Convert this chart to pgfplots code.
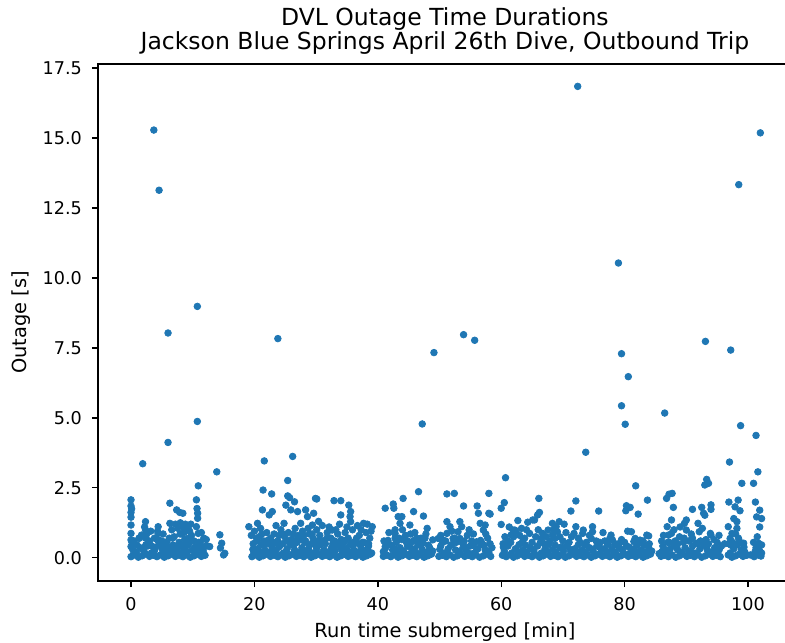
\documentclass[border=0pt]{standalone}
\usepackage{pgfplots}
\pgfplotsset{compat=1.18}
\usepackage{pgfplotstable}
\usepackage{fontspec}
\setmainfont{DejaVu Sans}
\definecolor{mplblue}{HTML}{1F77B4}

% outliers and mid-level outages
\pgfplotstableread{
x y
3.7 15.28
4.55 13.13
72.4 16.84
102.0 15.18
98.5 13.33
79.0 10.53
10.75 8.98
6.0 8.03
23.8 7.83
53.9 7.97
55.7 7.77
49.1 7.33
93.1 7.73
97.2 7.42
79.5 7.29
80.6 6.47
79.5 5.43
80.1 4.77
86.5 5.17
98.8 4.72
101.3 4.37
10.75 4.87
6.0 4.12
47.2 4.78
73.7 3.77
97.0 3.42
1.9 3.36
13.9 3.07
21.6 3.46
26.2 3.62
60.7 2.86
25.4 2.76
10.9 2.57
101.6 3.07
81.8 2.57
93.3 2.80
93.0 2.60
93.6 2.66
99.0 2.66
100.9 2.66
21.4 2.42
22.8 2.28
0.0 2.07
0.0 1.85
0.0 1.62
0.0 1.45
0.0 1.17
0.0 0.87
0.0 0.64
0.0 0.40
0.1 1.75
2.35 1.29
2.35 0.99
2.35 0.70
2.4 0.46
2.2 1.10
1.7 0.81
4.4 1.11
4.4 0.87
4.4 0.64
4.3 0.95
6.3 1.95
6.3 1.23
6.6 1.00
7.4 1.71
7.9 1.62
8.4 1.59
7.2 1.20
7.6 1.05
8.0 1.25
8.5 1.10
8.8 1.20
9.2 1.05
9.5 0.95
8.2 0.85
7.0 0.75
9.8 0.80
8.7 0.65
7.8 0.55
9.0 0.50
6.8 0.45
5.5 0.35
3.5 0.40
10.6 2.07
10.7 1.76
10.8 1.59
10.8 1.41
10.6 1.11
10.9 0.87
11.4 0.90
11.8 0.70
11.9 0.40
12.75 0.40
14.4 0.82
14.7 0.52
15.2 0.16
14.5 0.35
15.0 0.10
25.4 2.21
25.1 1.88
25.9 1.71
27.0 1.65
28.3 1.71
28.6 1.47
29.6 1.59
29.9 2.12
32.9 2.04
34.0 2.04
35.3 1.88
35.6 1.65
35.5 1.47
35.6 1.29
34.0 1.53
20.5 1.23
19.1 1.11
24.8 1.23
27.5 1.23
29.4 1.17
32.6 0.99
37.7 1.23
39.1 1.11
26.5 2.00
25.7 2.15
30.1 2.10
21.3 1.71
22.9 1.65
22.4 1.53
19.5 0.80
20.0 0.95
20.8 0.75
21.5 0.60
22.0 0.90
22.6 0.70
23.2 0.85
23.8 0.60
24.3 1.00
24.9 0.75
25.5 0.90
26.0 0.65
26.6 1.05
27.1 0.80
27.8 0.95
28.3 0.60
28.9 0.85
29.5 0.70
30.1 1.00
30.6 0.80
31.2 0.60
31.8 0.90
32.4 0.70
33.0 0.60
33.5 0.85
34.1 0.65
34.7 0.90
35.2 0.70
35.9 1.00
36.4 0.60
37.0 0.80
37.5 0.55
38.1 0.90
38.7 0.70
36.7 1.15
38.3 1.20
31.0 1.15
33.8 1.20
23.5 1.15
21.0 1.05
41.2 1.77
42.5 1.92
42.6 1.77
44.1 2.12
46.6 2.36
45.8 1.65
47.4 1.49
43.3 1.47
43.9 1.47
43.6 1.23
45.2 1.17
48.0 1.05
42.8 1.00
42.8 0.87
42.8 0.70
41.2 0.40
40.9 0.22
48.9 0.64
45.6 0.58
51.2 2.28
52.4 2.30
53.9 1.85
56.1 1.85
56.3 1.59
58.0 2.30
58.0 1.59
56.6 1.23
57.4 1.17
57.1 0.99
51.2 1.29
51.7 1.11
51.2 0.87
53.3 1.29
53.6 1.11
53.0 0.93
58.2 1.56
49.8 0.69
52.2 0.69
53.3 0.69
56.0 0.57
44.5 0.80
46.0 0.90
47.0 0.70
43.9 0.65
50.5 0.55
54.5 0.80
55.2 0.60
57.8 0.70
46.5 0.50
48.2 0.45
60.5 1.97
60.0 1.77
66.1 2.12
72.1 2.03
71.3 1.67
75.8 1.67
66.2 1.62
65.9 1.53
60.0 1.19
62.7 1.33
64.3 1.27
65.4 1.35
68.3 1.23
69.4 1.29
68.9 1.11
72.1 1.11
74.8 1.11
74.8 0.93
61.9 0.99
62.4 0.93
61.6 0.81
64.6 0.87
66.7 0.87
68.3 0.81
69.1 0.93
71.8 0.87
73.2 0.87
77.8 0.81
65.1 1.35
67.6 0.99
73.3 0.99
63.3 1.05
62.2 0.99
60.6 0.75
62.0 0.75
66.5 0.69
68.7 0.69
71.4 0.75
74.6 0.69
77.6 0.69
63.5 0.60
65.0 0.55
67.0 0.50
70.0 0.60
70.5 0.90
72.8 0.55
76.0 0.55
76.5 0.90
78.5 0.50
79.5 0.65
80.3 1.86
80.9 1.80
80.2 1.68
82.2 1.56
83.7 2.06
81.1 0.93
83.9 0.78
81.7 0.69
82.5 0.63
80.5 0.95
81.5 0.58
83.6 0.81
87.2 2.27
86.8 2.12
87.7 2.30
87.9 1.80
91.0 1.73
92.5 1.80
94.0 1.89
94.0 1.73
92.8 1.59
96.9 1.99
98.4 2.06
101.2 1.99
97.9 1.82
98.7 1.68
101.9 1.70
102.2 1.40
101.4 1.46
93.0 1.52
87.6 1.35
86.9 1.11
90.0 1.35
89.7 1.23
91.9 1.23
97.7 1.40
98.2 1.05
96.8 1.11
98.2 1.29
97.4 0.87
87.6 0.87
87.1 0.81
90.0 0.99
88.9 0.75
92.1 0.93
93.9 0.87
94.0 0.81
97.1 0.69
99.3 0.52
101.7 0.52
102.2 0.46
86.0 0.60
88.2 0.60
89.5 0.55
91.0 0.70
93.2 0.65
95.0 0.55
96.2 0.50
86.5 0.30
85.6 0.15
0.5 0.60
1.0 0.45
1.3 0.70
3.0 0.60
3.2 0.95
3.8 0.70
5.0 0.60
5.2 0.85
5.8 0.55
6.2 0.70
7.3 0.35
8.0 0.40
8.6 0.90
9.3 0.70
9.7 1.20
10.2 0.60
10.3 0.35
11.2 0.55
12.2 0.65
19.8 0.50
20.4 0.60
21.2 0.85
22.3 0.50
23.0 0.55
24.0 0.80
24.6 0.50
25.2 0.60
26.3 0.85
26.9 0.55
27.5 0.65
28.0 0.80
28.7 1.05
29.2 0.50
29.9 0.60
30.4 1.30
31.5 0.50
32.1 1.10
32.7 0.50
33.2 1.00
34.4 0.50
35.0 1.10
36.0 0.55
36.9 0.50
37.3 1.00
38.5 0.50
38.9 0.95
41.0 0.60
41.8 0.90
43.0 0.55
44.0 1.00
44.8 0.60
45.3 0.85
46.3 0.70
47.3 0.55
47.8 0.85
50.2 0.80
51.0 0.60
52.0 0.95
52.7 0.55
54.0 0.60
54.8 1.00
55.5 0.85
56.8 0.55
57.5 0.85
58.2 0.50
60.3 0.50
61.0 0.60
61.3 1.10
63.0 0.80
63.8 0.70
64.1 1.00
65.6 0.75
66.0 1.00
67.3 0.75
67.9 0.60
68.5 1.00
69.5 0.75
70.2 1.20
71.0 0.55
72.5 0.70
73.8 0.55
74.3 0.80
75.4 0.60
76.8 0.60
77.2 0.50
78.0 0.65
79.0 0.50
80.0 0.55
82.0 0.50
83.0 0.60
84.0 0.50
86.3 0.80
87.0 0.55
88.0 1.00
88.6 0.50
89.0 1.10
90.4 0.60
90.8 0.85
91.5 0.50
92.3 0.60
92.6 1.05
93.6 0.50
94.5 0.65
95.3 0.80
96.9 0.50
97.5 0.55
98.0 0.85
98.6 0.60
100.9 0.55
101.5 0.75
101.9 1.10
0.15 0.55
0.75 0.15
1.35 0.70
1.95 0.30
2.55 0.85
3.15 0.45
3.75 0.22
4.35 0.62
4.95 0.38
5.55 0.55
6.15 0.15
6.75 0.70
7.35 0.30
7.95 0.85
8.55 0.45
9.15 0.22
9.75 0.62
10.35 0.38
10.95 0.55
11.55 0.15
19.75 0.30
20.35 0.70
20.95 0.22
21.55 0.45
22.15 0.62
22.75 0.15
23.35 0.55
23.95 0.38
24.55 0.85
25.15 0.22
25.75 0.62
26.35 0.45
26.95 0.70
27.55 0.15
28.15 0.55
28.75 0.30
29.35 0.85
29.95 0.45
30.55 0.62
31.15 0.22
31.75 0.70
32.35 0.15
32.95 0.38
33.55 0.55
34.15 0.30
34.75 0.62
35.35 0.22
35.95 0.45
36.55 0.70
37.15 0.15
37.75 0.55
38.35 0.30
41.05 0.15
41.65 0.62
42.25 0.45
42.85 0.30
43.45 0.70
44.05 0.22
44.65 0.55
45.25 0.38
45.85 0.62
46.45 0.15
47.05 0.45
47.65 0.70
48.25 0.22
50.05 0.30
50.65 0.62
51.25 0.15
51.85 0.45
52.45 0.70
53.05 0.22
53.65 0.55
54.25 0.38
54.85 0.15
55.45 0.45
56.05 0.30
56.65 0.62
57.25 0.45
57.85 0.22
60.35 0.38
61.55 0.55
62.75 0.22
63.95 0.45
65.15 0.30
66.35 0.55
67.55 0.22
68.75 0.45
69.95 0.38
71.15 0.30
72.35 0.22
73.55 0.45
74.75 0.30
75.95 0.38
77.15 0.22
78.35 0.45
79.55 0.30
80.75 0.38
81.95 0.22
83.15 0.45
86.05 0.22
87.25 0.55
88.45 0.38
89.65 0.70
90.85 0.22
92.05 0.55
93.25 0.38
94.45 0.22
95.35 0.30
97.25 0.45
98.45 0.70
99.35 0.38
101.15 0.22
101.75 0.30
}\midpts

% dense base of short outages
\pgfplotstableread{
x y
0.0 0.04
0.3 0.28
0.6 0.10
0.9 0.20
1.2 0.02
1.5 0.36
1.8 0.07
2.1 0.24
2.4 0.13
2.7 0.42
3.0 0.05
3.3 0.17
3.6 0.09
3.9 0.32
4.2 0.04
4.5 0.47
4.8 0.10
5.1 0.28
5.4 0.02
5.7 0.20
6.0 0.07
6.3 0.36
6.6 0.13
6.9 0.24
7.2 0.05
7.5 0.42
7.8 0.09
8.1 0.17
8.4 0.04
8.7 0.32
9.0 0.10
9.3 0.47
9.6 0.02
9.9 0.28
10.2 0.07
10.5 0.20
10.8 0.13
11.1 0.36
11.4 0.05
11.7 0.24
12.0 0.09
12.3 0.42
19.6 0.04
19.9 0.17
20.2 0.10
20.5 0.32
20.8 0.02
21.1 0.47
21.4 0.07
21.7 0.28
22.0 0.13
22.3 0.20
22.6 0.05
22.9 0.36
23.2 0.09
23.5 0.24
23.8 0.04
24.1 0.42
24.4 0.10
24.7 0.17
25.0 0.02
25.3 0.32
25.6 0.07
25.9 0.47
26.2 0.13
26.5 0.28
26.8 0.05
27.1 0.20
27.4 0.09
27.7 0.36
28.0 0.04
28.3 0.24
28.6 0.10
28.9 0.42
29.2 0.02
29.5 0.17
29.8 0.07
30.1 0.32
30.4 0.13
30.7 0.47
31.0 0.05
31.3 0.28
31.6 0.09
31.9 0.20
32.2 0.04
32.5 0.36
32.8 0.10
33.1 0.24
33.4 0.02
33.7 0.42
34.0 0.07
34.3 0.17
34.6 0.13
34.9 0.32
35.2 0.05
35.5 0.47
35.8 0.09
36.1 0.28
36.4 0.04
36.7 0.20
37.0 0.10
37.3 0.36
37.6 0.02
37.9 0.24
38.2 0.07
38.5 0.42
38.8 0.13
39.0 0.17
40.9 0.05
41.2 0.32
41.5 0.09
41.8 0.47
42.1 0.04
42.4 0.28
42.7 0.10
43.0 0.20
43.3 0.02
43.6 0.36
43.9 0.07
44.2 0.24
44.5 0.13
44.8 0.42
45.1 0.05
45.4 0.17
45.7 0.09
46.0 0.32
46.3 0.04
46.6 0.47
46.9 0.10
47.2 0.28
47.5 0.02
47.8 0.20
48.1 0.07
48.4 0.36
48.7 0.13
48.9 0.24
49.9 0.05
50.2 0.42
50.5 0.09
50.8 0.17
51.1 0.04
51.4 0.32
51.7 0.10
52.0 0.47
52.3 0.02
52.6 0.28
52.9 0.07
53.2 0.20
53.5 0.13
53.8 0.36
54.1 0.05
54.4 0.24
54.7 0.09
55.0 0.42
55.3 0.04
55.6 0.17
55.9 0.10
56.2 0.32
56.5 0.02
56.8 0.47
57.1 0.07
57.4 0.28
57.7 0.13
58.0 0.20
58.3 0.05
58.5 0.36
60.2 0.09
60.5 0.24
60.8 0.04
61.1 0.42
61.4 0.10
61.7 0.17
62.0 0.02
62.3 0.32
62.6 0.07
62.9 0.47
63.2 0.13
63.5 0.28
63.8 0.05
64.1 0.20
64.4 0.09
64.7 0.36
65.0 0.04
65.3 0.24
65.6 0.10
65.9 0.42
66.2 0.02
66.5 0.17
66.8 0.07
67.1 0.32
67.4 0.13
67.7 0.47
68.0 0.05
68.3 0.28
68.6 0.09
68.9 0.20
69.2 0.04
69.5 0.36
69.8 0.10
70.1 0.24
70.4 0.02
70.7 0.42
71.0 0.07
71.3 0.17
71.6 0.13
71.9 0.32
72.2 0.05
72.5 0.47
72.8 0.09
73.1 0.28
73.4 0.04
73.7 0.20
74.0 0.10
74.3 0.36
74.6 0.02
74.9 0.24
75.2 0.07
75.5 0.42
75.8 0.13
76.1 0.17
76.4 0.05
76.7 0.32
77.0 0.09
77.3 0.47
77.6 0.04
77.9 0.28
78.2 0.10
78.5 0.20
78.8 0.02
79.1 0.36
79.4 0.07
79.7 0.24
80.0 0.13
80.3 0.42
80.6 0.05
80.9 0.17
81.2 0.09
81.5 0.32
81.8 0.04
82.1 0.47
82.4 0.10
82.7 0.28
83.0 0.02
83.3 0.20
83.6 0.07
83.9 0.36
84.2 0.13
84.4 0.24
85.9 0.05
86.2 0.42
86.5 0.09
86.8 0.17
87.1 0.04
87.4 0.32
87.7 0.10
88.0 0.47
88.3 0.02
88.6 0.28
88.9 0.07
89.2 0.20
89.5 0.13
89.8 0.36
90.1 0.05
90.4 0.24
90.7 0.09
91.0 0.42
91.3 0.04
91.6 0.17
91.9 0.10
92.2 0.32
92.5 0.02
92.8 0.47
93.1 0.07
93.4 0.28
93.7 0.13
94.0 0.20
94.3 0.05
94.6 0.36
94.9 0.09
95.2 0.24
95.5 0.04
95.7 0.42
96.8 0.10
97.1 0.17
97.4 0.02
97.7 0.32
98.0 0.07
98.3 0.47
98.6 0.13
98.9 0.28
99.2 0.05
99.5 0.20
99.8 0.09
100.4 0.10
101.0 0.04
101.3 0.36
101.6 0.10
101.9 0.24
102.1 0.06
102.2 0.17
}\basepts

\begin{document}
\begin{tikzpicture}
\begin{axis}[
  at={(0pt,0pt)}, anchor=south west,
  scale only axis, width=346.9pt, height=258.5pt,
  xmin=-5.35, xmax=107.1, ymin=-0.83, ymax=17.64,
  xtick={0,20,40,60,80,100},
  ytick={0,2.5,5,7.5,10,12.5,15,17.5},
  yticklabel style={xshift=-1.5pt, /pgf/number format/fixed, /pgf/number format/fixed zerofill, /pgf/number format/precision=1},
  /pgf/number format/assume math mode=true,
  tick pos=left, tick align=outside,
  major tick length=3.06pt,
  every tick/.style={black, line width=0.7pt},
  axis line style={black, line width=0.7pt},
  tick label style={font=\fontsize{8.8pt}{10pt}\selectfont, text=black},
  xticklabel style={yshift=-1.5pt},
  xlabel={Run time submerged [min]},
  ylabel={Outage [s]},
  label style={font=\fontsize{9.7pt}{11pt}\selectfont, text=black},
  xlabel style={at={(axis description cs:0.5,0)}, anchor=north, inner sep=0pt, yshift=-20.5pt},
  ylabel style={at={(axis description cs:-0.111,0.5)}, anchor=center, inner sep=0pt},
  title={DVL Outage Time Durations\\Jackson Blue Springs April 26th Dive, Outbound Trip},
  title style={at={(axis description cs:0.5,1)}, anchor=south, align=center, inner sep=0pt, yshift=-1.4pt, font=\fontsize{11.75pt}{12pt}\selectfont, text=black},
]
\addplot[only marks, mark=*, color=mplblue, mark size=1.65pt, mark options={line width=0.4pt}] table[x=x, y=y] {\basepts};
\addplot[only marks, mark=*, color=mplblue, mark size=1.65pt, mark options={line width=0.4pt}] table[x=x, y=y] {\midpts};
\end{axis}
\pgfresetboundingbox
\useasboundingbox (-49pt,-30.5pt) rectangle (343.5pt,290.5pt);
\end{tikzpicture}
\end{document}
